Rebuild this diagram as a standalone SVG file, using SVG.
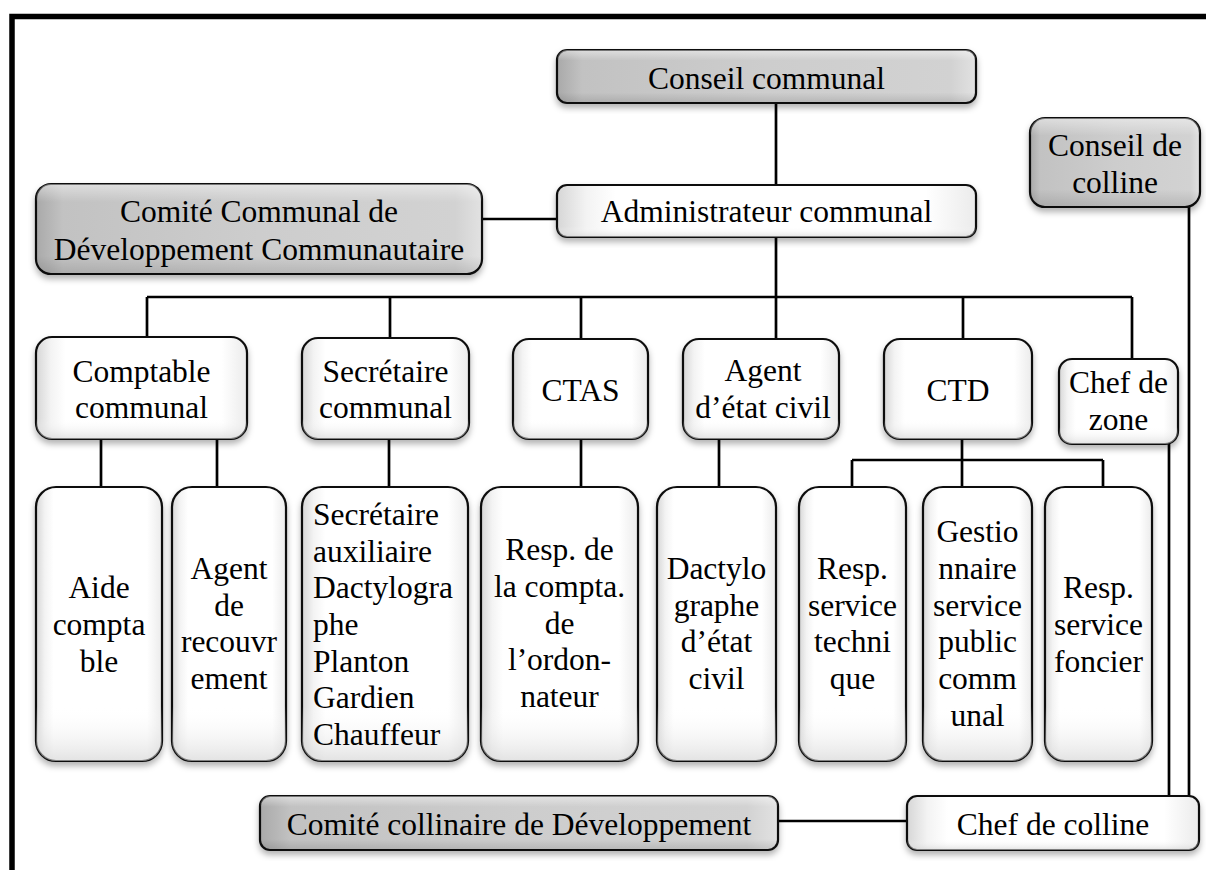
<svg xmlns="http://www.w3.org/2000/svg" width="1206" height="870" viewBox="0 0 1206 870">
<style>
  .b{stroke:#111;stroke-width:2.2;filter:url(#sh)}
  .w{fill:url(#gw)}
  .g{fill:url(#gg)}
  .ov{fill:url(#gv);stroke:none}
  .ovg{fill:url(#gvg);stroke:none}
  text{font-family:"Liberation Serif","Times New Roman",serif;font-size:31.5px;fill:#000;text-anchor:middle}
  .l{text-anchor:start}
  .c{fill:none;stroke:#000;stroke-width:2.7}
</style>
<defs>
  <filter id="sh" x="-10%" y="-10%" width="120%" height="130%">
    <feDropShadow dx="0" dy="4" stdDeviation="3" flood-color="#000" flood-opacity="0.3"/>
  </filter>
  <linearGradient id="gw" x1="0" y1="0" x2="1" y2="0">
    <stop offset="0" stop-color="#d6d6d6"/>
    <stop offset="0.07" stop-color="#f3f3f3"/>
    <stop offset="0.14" stop-color="#ffffff"/>
    <stop offset="0.88" stop-color="#ffffff"/>
    <stop offset="1" stop-color="#ebebeb"/>
  </linearGradient>
  <linearGradient id="gv" x1="0" y1="0" x2="0" y2="1">
    <stop offset="0" stop-color="#fff" stop-opacity="0"/>
    <stop offset="0.8" stop-color="#fff" stop-opacity="0"/>
    <stop offset="1" stop-color="#d0d0d0" stop-opacity="0.6"/>
  </linearGradient>
  <linearGradient id="gg" x1="0" y1="0" x2="1" y2="0">
    <stop offset="0" stop-color="#a9a9a9"/>
    <stop offset="0.06" stop-color="#c2c2c2"/>
    <stop offset="0.5" stop-color="#cdcdcd"/>
    <stop offset="0.94" stop-color="#d2d2d2"/>
    <stop offset="1" stop-color="#e2e2e2"/>
  </linearGradient>
  <linearGradient id="gvg" x1="0" y1="0" x2="0" y2="1">
    <stop offset="0" stop-color="#fff" stop-opacity="0.45"/>
    <stop offset="0.2" stop-color="#fff" stop-opacity="0"/>
    <stop offset="0.8" stop-color="#000" stop-opacity="0"/>
    <stop offset="1" stop-color="#000" stop-opacity="0.12"/>
  </linearGradient>
</defs>
<rect width="1206" height="870" fill="#fff"/>
<path d="M12,870 V16.5 H1206" fill="none" stroke="#000" stroke-width="5.5"/>

<g id="connectors">
  <path class="c" d="M776,103 V185"/>
  <path class="c" d="M482,219 H557"/>
  <path class="c" d="M776,237 V339"/>
  <path class="c" d="M147,297 H1132"/>
  <path class="c" d="M147,297 V337"/>
  <path class="c" d="M390,297 V338"/>
  <path class="c" d="M581,297 V339"/>
  <path class="c" d="M963,297 V339"/>
  <path class="c" d="M1132,297 V359"/>
  <path class="c" d="M101,439 V487"/>
  <path class="c" d="M217,439 V487"/>
  <path class="c" d="M389,439 V487"/>
  <path class="c" d="M581,439 V487"/>
  <path class="c" d="M719,439 V487"/>
  <path class="c" d="M962,439 V487"/>
  <path class="c" d="M852,460 H1103 M852,460 V487 M1103,460 V487"/>
  <path class="c" d="M778,821 H907"/>
  <path class="c" d="M1169,444 V796"/>
  <path class="c" d="M1189,207 V796"/>
</g>

<g id="n-conseil-communal">
  <rect class="b g" x="557" y="50" width="419" height="53" rx="10"/>
  <rect class="ovg" x="557" y="50" width="419" height="53" rx="10"/>
  <text x="766.5" y="89">Conseil communal</text>
</g>
<g id="n-administrateur">
  <rect class="b w" x="557" y="185" width="419" height="52" rx="10"/>
  <rect class="ov" x="557" y="185" width="419" height="52" rx="10"/>
  <text x="766.5" y="222">Administrateur communal</text>
</g>
<g id="n-ccdc">
  <rect class="b g" x="36" y="184" width="446" height="90" rx="15"/>
  <rect class="ovg" x="36" y="184" width="446" height="90" rx="15"/>
  <text x="259" y="222">Comité Communal de</text>
  <text x="259" y="260">Développement Communautaire</text>
</g>
<g id="n-conseil-colline">
  <rect class="b g" x="1030" y="118" width="170" height="89" rx="15"/>
  <rect class="ovg" x="1030" y="118" width="170" height="89" rx="15"/>
  <text x="1115" y="156">Conseil de</text>
  <text x="1115" y="193">colline</text>
</g>

<g id="n-comptable">
  <rect class="b w" x="36" y="337" width="211" height="102" rx="16"/>
  <rect class="ov" x="36" y="337" width="211" height="102" rx="16"/>
  <text x="141.5" y="382">Comptable</text>
  <text x="141.5" y="418">communal</text>
</g>
<g id="n-secretaire">
  <rect class="b w" x="302" y="338" width="167" height="101" rx="16"/>
  <rect class="ov" x="302" y="338" width="167" height="101" rx="16"/>
  <text x="385.5" y="382">Secrétaire</text>
  <text x="385.5" y="418">communal</text>
</g>
<g id="n-ctas">
  <rect class="b w" x="513" y="339" width="135" height="100" rx="16"/>
  <rect class="ov" x="513" y="339" width="135" height="100" rx="16"/>
  <text x="580.5" y="401">CTAS</text>
</g>
<g id="n-agent-etat-civil">
  <rect class="b w" x="683" y="339" width="156" height="100" rx="16"/>
  <rect class="ov" x="683" y="339" width="156" height="100" rx="16"/>
  <text x="763" y="381">Agent</text>
  <text x="763" y="418">d’état civil</text>
</g>
<g id="n-ctd">
  <rect class="b w" x="884" y="339" width="148" height="100" rx="16"/>
  <rect class="ov" x="884" y="339" width="148" height="100" rx="16"/>
  <text x="958" y="401">CTD</text>
</g>
<g id="n-chef-zone">
  <rect class="b w" x="1059" y="359" width="119" height="85" rx="13"/>
  <rect class="ov" x="1059" y="359" width="119" height="85" rx="13"/>
  <text x="1118.5" y="393">Chef de</text>
  <text x="1118.5" y="430">zone</text>
</g>

<g id="n-aide-comptable">
  <rect class="b w" x="36" y="487" width="126" height="274" rx="20"/>
  <rect class="ov" x="36" y="487" width="126" height="274" rx="20"/>
  <text x="99" y="598">Aide</text>
  <text x="99" y="635">compta</text>
  <text x="99" y="672">ble</text>
</g>
<g id="n-agent-recouvrement">
  <rect class="b w" x="172" y="487" width="114" height="274" rx="20"/>
  <rect class="ov" x="172" y="487" width="114" height="274" rx="20"/>
  <text x="229" y="579">Agent</text>
  <text x="229" y="616">de</text>
  <text x="229" y="652">recouvr</text>
  <text x="229" y="689">ement</text>
</g>
<g id="n-secretaire-auxiliaire">
  <rect class="b w" x="302" y="487" width="166" height="274" rx="20"/>
  <rect class="ov" x="302" y="487" width="166" height="274" rx="20"/>
  <text class="l" x="313" y="525">Secrétaire</text>
  <text class="l" x="313" y="562">auxiliaire</text>
  <text class="l" x="313" y="598">Dactylogra</text>
  <text class="l" x="313" y="635">phe</text>
  <text class="l" x="313" y="672">Planton</text>
  <text class="l" x="313" y="708">Gardien</text>
  <text class="l" x="313" y="745">Chauffeur</text>
</g>
<g id="n-resp-compta">
  <rect class="b w" x="481" y="487" width="157" height="274" rx="20"/>
  <rect class="ov" x="481" y="487" width="157" height="274" rx="20"/>
  <text x="559.5" y="560">Resp. de</text>
  <text x="559.5" y="597">la compta.</text>
  <text x="559.5" y="634">de</text>
  <text x="559.5" y="670">l’ordon-</text>
  <text x="559.5" y="707">nateur</text>
</g>
<g id="n-dactylographe">
  <rect class="b w" x="657" y="487" width="119" height="274" rx="20"/>
  <rect class="ov" x="657" y="487" width="119" height="274" rx="20"/>
  <text x="716.5" y="579">Dactylo</text>
  <text x="716.5" y="616">graphe</text>
  <text x="716.5" y="652">d’état</text>
  <text x="716.5" y="689">civil</text>
</g>
<g id="n-resp-technique">
  <rect class="b w" x="799" y="487" width="107" height="274" rx="20"/>
  <rect class="ov" x="799" y="487" width="107" height="274" rx="20"/>
  <text x="852.5" y="579">Resp.</text>
  <text x="852.5" y="616">service</text>
  <text x="852.5" y="652">techni</text>
  <text x="852.5" y="689">que</text>
</g>
<g id="n-gestionnaire">
  <rect class="b w" x="923" y="487" width="109" height="274" rx="20"/>
  <rect class="ov" x="923" y="487" width="109" height="274" rx="20"/>
  <text x="977.5" y="542">Gestio</text>
  <text x="977.5" y="579">nnaire</text>
  <text x="977.5" y="616">service</text>
  <text x="977.5" y="652">public</text>
  <text x="977.5" y="689">comm</text>
  <text x="977.5" y="726">unal</text>
</g>
<g id="n-resp-foncier">
  <rect class="b w" x="1045" y="487" width="107" height="274" rx="20"/>
  <rect class="ov" x="1045" y="487" width="107" height="274" rx="20"/>
  <text x="1098.5" y="598">Resp.</text>
  <text x="1098.5" y="635">service</text>
  <text x="1098.5" y="672">foncier</text>
</g>

<g id="n-comite-collinaire">
  <rect class="b g" x="260" y="796" width="518" height="54" rx="10"/>
  <rect class="ovg" x="260" y="796" width="518" height="54" rx="10"/>
  <text x="519" y="835">Comité collinaire de Développement</text>
</g>
<g id="n-chef-colline">
  <rect class="b w" x="907" y="796" width="292" height="54" rx="10"/>
  <rect class="ov" x="907" y="796" width="292" height="54" rx="10"/>
  <text x="1053" y="835">Chef de colline</text>
</g>
</svg>
